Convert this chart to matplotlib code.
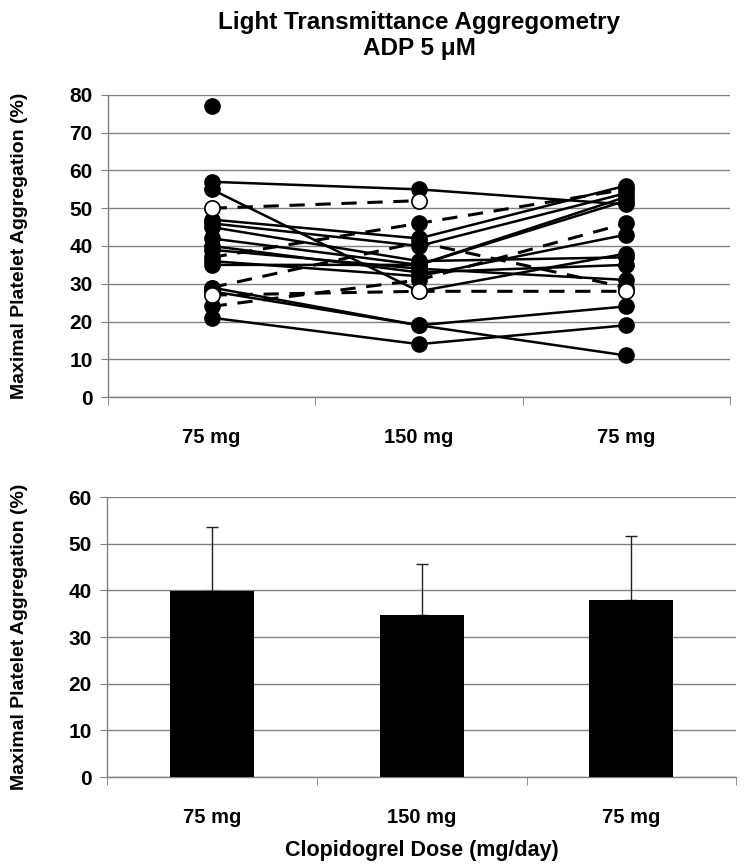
import numpy as np
import matplotlib
matplotlib.use("Agg")
import matplotlib.pyplot as plt

plt.rcParams['font.family'] = ['Liberation Sans', 'DejaVu Sans']
plt.rcParams['font.weight'] = 'bold'

doses = ["75 mg", "150 mg", "75 mg"]
nan = np.nan

# per-patient values (75 mg, 150 mg, 75 mg)
solid_patients = [
    [77, nan, nan],
    [57, 55, 51],
    [55, 28, 38],
    [47, 42, 56],
    [46, 40, 54],
    [45, 36, 37],
    [42, 35, 53],
    [40, 33, 35],
    [39, 34, 31],
    [35, 35, 52],
    [36, 32, 43],
    [29, 19, 24],
    [28, 19, 11],
    [21, 14, 19],
]
dashed_patients = [
    [37, 46, 55],
    [29, 41, 29],
    [24, 31, 46],
]
open_patients = [
    [50, 52, nan],
    [27, 28, 28],
]

mean_agg = [39.8, 34.8, 38.0]
sd_agg = [13.7, 10.8, 13.7]

fig = plt.figure(figsize=(7.5, 8.68), dpi=100)
ax1 = fig.add_axes([0.144, 0.5426, 0.829, 0.348])
ax2 = fig.add_axes([0.1427, 0.1048, 0.839, 0.3226])

x = np.arange(3)
grey = "#808080"


def style_axes(ax, ymax, label_x):
    ax.set_xlim(-0.5, 2.5)
    ax.set_ylim(0, ymax)
    ax.set_yticks(np.arange(0, ymax + 1, 10))
    ax.yaxis.grid(True, color=grey, lw=1)
    ax.set_axisbelow(True)
    for s in ["top", "right"]:
        ax.spines[s].set_visible(False)
    for s in ["left", "bottom"]:
        ax.spines[s].set_color(grey)
        ax.spines[s].set_linewidth(1)
    ax.set_xticks(x)
    ax.set_xticklabels(doses, fontsize=14.5, fontweight="bold")
    ax.set_xticks([-0.5, 0.5, 1.5, 2.5], minor=True)
    ax.tick_params(axis="x", which="major", length=0, pad=22)
    ax.tick_params(axis="x", which="minor", length=6, color=grey, direction="out")
    ax.tick_params(axis="y", length=5, color=grey, labelsize=15, pad=6)
    for lab in ax.get_yticklabels():
        lab.set_fontweight("bold")
    ax.set_ylabel("Maximal Platelet Aggregation (%)", fontsize=14, fontweight="bold")
    ax.yaxis.set_label_coords(label_x, 0.5)


style_axes(ax1, 80, -0.129)

for p in solid_patients:
    ax1.plot(x, p, color="black", lw=1.8, marker="o", ms=11,
             mfc="black", mec="black", zorder=3)
for p in dashed_patients:
    ax1.plot(x, p, color="black", lw=2.2, ls=(0, (5, 3.5)), marker="o", ms=11,
             mfc="black", mec="black", zorder=3)
for p in open_patients:
    ax1.plot(x, p, color="black", lw=2.2, ls=(0, (5, 3.5)), marker="o", ms=11,
             mfc="white", mec="black", mew=1.2, zorder=4)

style_axes(ax2, 60, -0.126)
ax2.bar(x, mean_agg, width=0.4, color="black", zorder=3)
ax2.errorbar(x, mean_agg, yerr=[[0, 0, 0], sd_agg], fmt="none", ecolor="#222222",
             elinewidth=1, capsize=4, capthick=1, zorder=2)
ax2.set_xlabel("Clopidogrel Dose (mg/day)", fontsize=15.5, fontweight="bold", labelpad=10)

fig.text(0.559, 0.987, "Light Transmittance Aggregometry\nADP 5 \u03bcM",
         ha="center", va="top", fontsize=17.5, fontweight="bold", linespacing=1.15)

fig.savefig("out.png", dpi=100)
